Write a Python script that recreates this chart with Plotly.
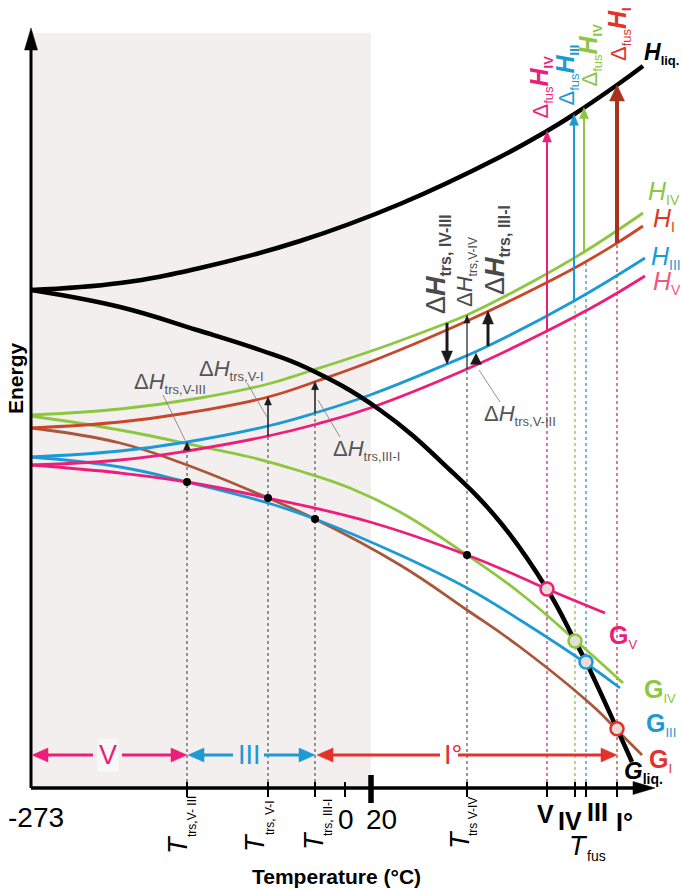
import numpy as np
import plotly.graph_objects as go

W, HGT = 682, 890
def py(v):  # layout helper: pixel row of the reference -> energy units
    return HGT - v

# ---------------- data (schematic temperature units / energy units) ----------------
T_liqH = [31, 120, 200, 300, 400, 500, 547, 573, 617, 643]
H_liq = [600, 607, 622, 649, 686, 733, 759, 775, 805, 824]
T_liqG = [31, 120, 197, 260, 307, 380, 450, 500, 547, 574, 587, 618, 632]
G_liq = [600, 583, 560, 540, 522, 480, 420, 368, 301, 251, 226, 159, 128]

T_HIV = [31, 120, 200, 268, 307, 380, 447, 467, 530, 584, 643]
H_IV = [475, 481, 492, 506, 518, 542, 567, 575, 607, 638, 677]
T_HI = [31, 120, 187, 268, 320, 380, 467, 530, 580, 617, 643]
H_I = [462, 468, 477, 493, 510, 532, 569, 599, 625, 647, 664]
T_HIII = [31, 120, 187, 268, 315, 370, 447, 488, 574, 645]
H_III = [433, 439, 448, 464, 477, 495, 526, 544, 589, 632]
T_HV = [31, 120, 187, 268, 317, 370, 467, 547, 600, 645]
H_V = [425, 430, 439, 454, 466, 482, 521, 559, 587, 614]

T_GIV = [31, 120, 203, 250, 300, 350, 400, 467, 520, 574, 623]
G_IV = [474, 460, 443, 433, 419, 402, 378, 335, 297, 251, 207]
T_GI = [31, 120, 187, 268, 315, 400, 467, 520, 595, 618, 642]
G_I = [462, 447, 425, 392, 371, 325, 280, 243, 182, 159, 135]
T_GIII = [31, 120, 187, 268, 315, 400, 467, 520, 587, 620]
G_III = [433, 423, 408, 387, 371, 335, 302, 270, 226, 202]
T_GV = [31, 120, 187, 268, 370, 467, 520, 547, 605]
G_V = [425, 417, 408, 392, 368, 335, 313, 301, 277]

T_ABS0 = 31          # -273 °C
T_ZERO, T_ROOM = 345, 371   # 0 °C and 20 °C
T_trs = {"V-III": 187, "V-I": 268, "III-I": 315, "V-IV": 467}
T_fus = {"V": 547, "IV": 575, "III": 586, "I": 617}
T_fus_arrow = {"V": 547, "III": 574, "IV": 584, "I": 617}
T_dH_big = {"IV-III": 447, "III-I": 488, "V-III": 476}

PINK, GREEN, BLUE = "#ec1e79", "#8dc63f", "#1b9ad6"
HI_RED, GI_BROWN, RED = "#c8472a", "#a9573a", "#e3312b"
FONT = "Liberation Sans, Arial, sans-serif"
GREY_TXT = "#555555"

def at(T, E, x):
    return float(np.interp(x, T, E))

fig = go.Figure()
shapes, ann = [], []

def seg(x0, y0, x1, y1, color, width, dash=None, layer="above"):
    shapes.append(dict(type="line", xref="x", yref="y", x0=x0, y0=y0, x1=x1, y1=y1,
                       line=dict(color=color, width=width, dash=dash), layer=layer))

def head(xt, yt, dx, dy, length, width, color):
    bx, by = xt - dx * length, yt - dy * length
    nx, ny = -dy, dx
    p1 = (bx + nx * width / 2, by + ny * width / 2)
    p2 = (bx - nx * width / 2, by - ny * width / 2)
    shapes.append(dict(type="path", xref="x", yref="y",
                       path=f"M{xt},{yt} L{p1[0]},{p1[1]} L{p2[0]},{p2[1]} Z",
                       fillcolor=color, line=dict(color=color, width=0.5), layer="above"))

def arrow(x0, y0, x1, y1, color, width, hl, hw, draw_line=True):
    L = np.hypot(x1 - x0, y1 - y0)
    dx, dy = (x1 - x0) / L, (y1 - y0) / L
    if draw_line:
        seg(x0, y0, x1 - dx * hl * 0.7, y1 - dy * hl * 0.7, color, width)
    head(x1, y1, dx, dy, hl, hw, color)

def txt(x, y, s, size, color="#000", angle=0, xa="center", ya="middle", bg=None):
    d = dict(x=x, y=y, xref="x", yref="y", text=s, showarrow=False, textangle=angle,
             xanchor=xa, yanchor=ya, font=dict(family=FONT, size=size, color=color))
    if bg:
        d["bgcolor"] = bg
    ann.append(d)

def sub(s, size, bold=False):
    inner = f"<b>{s}</b>" if bold else s
    return f'<sub><span style="font-size:{size}px">{inner}</span></sub>'

def sz(s, size):
    return f'<span style="font-size:{size}px">{s}</span>'

# ---------------- background / axes ----------------
y_axis = py(788)
shapes.append(dict(type="rect", xref="x", yref="y", x0=T_ABS0, x1=T_ROOM, y0=y_axis, y1=py(33),
                   fillcolor="#f3efef", line=dict(width=0), layer="below"))

# grey dotted transition lines
for key, crv in [("V-III", (T_HV, H_V)), ("V-I", (T_HV, H_V)),
                 ("III-I", (T_HIII, H_III)), ("V-IV", (T_HV, H_V))]:
    x = T_trs[key]
    seg(x, y_axis, x, at(*crv, x), "#333333", 1, "dot", "below")

# coloured dotted melting lines
seg(T_fus["V"], y_axis, T_fus["V"], at(T_HV, H_V, T_fus["V"]), PINK, 1.3, "dot", "below")
seg(T_fus["IV"], y_axis, T_fus["IV"], at(T_HIII, H_III, T_fus["IV"]), GREEN, 1.3, "dot", "below")
seg(T_fus["III"], y_axis, T_fus["III"], at(T_HI, H_I, T_fus["III"]), BLUE, 1.3, "dot", "below")
seg(T_fus["I"], y_axis, T_fus["I"], at(T_HI, H_I, T_fus["I"]), RED, 1.3, "dot", "below")

# ---------------- curves ----------------
def curve(T, E, color, width):
    fig.add_trace(go.Scatter(x=T, y=E, mode="lines", hoverinfo="skip", showlegend=False,
                             line=dict(color=color, width=width, shape="spline", smoothing=1.2)))

curve(T_GI, G_I, GI_BROWN, 2.8)
curve(T_GIII, G_III, BLUE, 2.8)
curve(T_GIV, G_IV, GREEN, 2.8)
curve(T_GV, G_V, PINK, 2.8)
curve(T_HV, H_V, PINK, 2.8)
curve(T_HIII, H_III, BLUE, 2.8)
curve(T_HI, H_I, HI_RED, 2.8)
curve(T_HIV, H_IV, GREEN, 2.8)
curve(T_liqG, G_liq, "#000000", 4.5)
curve(T_liqH, H_liq, "#000000", 4.5)

# transition points
dots_x = [T_trs["V-III"], T_trs["V-I"], T_trs["III-I"], T_trs["V-IV"]]
dots_y = [at(T_GV, G_V, dots_x[0]), at(T_GV, G_V, dots_x[1]),
          at(T_GIII, G_III, dots_x[2]), at(T_GV, G_V, dots_x[3])]
fig.add_trace(go.Scatter(x=dots_x, y=dots_y, mode="markers", hoverinfo="skip", showlegend=False,
                         marker=dict(color="#000", size=8)))
# melting points
mx = [T_fus["V"], T_fus["IV"], T_fus["III"], T_fus["I"]]
my = [at(T_liqG, G_liq, x) for x in mx]
fig.add_trace(go.Scatter(x=mx, y=my, mode="markers", hoverinfo="skip", showlegend=False,
                         marker=dict(color="#e6dcd8", size=13,
                                     line=dict(color=[PINK, GREEN, BLUE, RED], width=2.5))))

# ---------------- axes lines ----------------
seg(T_ABS0, y_axis, 640, y_axis, "#000", 3.5)
head(655, y_axis, 1, 0, 22, 13, "#000")
seg(T_ABS0, y_axis, T_ABS0, py(45), "#000", 3)
head(T_ABS0, py(28), 0, 1, 22, 13, "#000")
for x in [T_trs["V-III"], T_trs["V-I"], T_trs["III-I"], T_ZERO, T_trs["V-IV"]] + mx:
    seg(x, py(782), x, py(797), "#000", 2)
seg(T_ROOM, py(775), T_ROOM, py(803), "#000", 5.5)

# ---------------- enthalpy arrows ----------------
x = T_fus_arrow["V"];  arrow(x, at(T_HV, H_V, x), x, at(T_liqH, H_liq, x), PINK, 2, 11, 9)
x = T_fus_arrow["III"]; arrow(x, at(T_HIII, H_III, x), x, at(T_liqH, H_liq, x), BLUE, 2, 11, 9)
x = T_fus_arrow["IV"]; arrow(x, at(T_HIV, H_IV, x), x, at(T_liqH, H_liq, x), GREEN, 2, 11, 9)
x = T_fus_arrow["I"];  arrow(x, at(T_HI, H_I, x), x, at(T_liqH, H_liq, x), "#a8321f", 4, 16, 15)

K = "#1a1a1a"
x = T_trs["V-III"]; arrow(x, at(T_HV, H_V, x), x, at(T_HIII, H_III, x), K, 1.5, 8, 7)
x = T_trs["V-I"];   arrow(x, at(T_HV, H_V, x), x, at(T_HI, H_I, x), K, 1.5, 8, 7)
x = T_trs["III-I"]; arrow(x, at(T_HIII, H_III, x), x, at(T_HI, H_I, x), K, 1.5, 8, 7)
x = T_trs["V-IV"];  arrow(x, at(T_HV, H_V, x), x, at(T_HIV, H_IV, x), K, 1.2, 8, 6)
x = T_dH_big["IV-III"]; arrow(x, at(T_HIV, H_IV, x), x, at(T_HIII, H_III, x), K, 3, 13, 11)
x = T_dH_big["III-I"];  arrow(x, at(T_HIII, H_III, x), x, at(T_HI, H_I, x), K, 3, 13, 11)
x = T_dH_big["V-III"];  arrow(x, at(T_HV, H_V, x), x, at(T_HIII, H_III, x) - 2, K, 3, 11, 11, draw_line=False)

# leader lines
LG = "#777777"
seg(163, py(395), T_trs["V-III"] - 2, py(440), LG, 0.8)
seg(247, py(383), T_trs["V-I"] - 1, py(417), LG, 0.8)
seg(318, py(400), 340, py(437), LG, 0.8)
seg(T_dH_big["V-III"] + 3, py(370), 500, py(402), LG, 0.8)

# ---------------- phase stability bar ----------------
yb = py(755)
arrow(93, yb, T_ABS0 + 1, yb, PINK, 3, 16, 14)
arrow(122, yb, T_trs["V-III"], yb, PINK, 3, 16, 14)
arrow(233, yb, T_trs["V-III"] + 1, yb, BLUE, 3, 16, 14)
arrow(264, yb, T_trs["III-I"], yb, BLUE, 3, 16, 14)
arrow(440, yb, T_trs["III-I"] + 2, yb, RED, 3, 16, 14)
arrow(458, yb, T_fus["I"], yb, RED, 3, 16, 14)
txt(108, yb, "V", 27, PINK, bg="rgba(250,248,248,0.9)")
txt(249, yb, "III", 27, BLUE)
txt(453, yb, "I°", 27, RED)

# ---------------- texts ----------------
txt(15, py(378), "<b>Energy</b>", 21, angle=-90)
txt(336, py(876), "<b>Temperature (°C)</b>", 21)
txt(36, py(817), "-273", 28)
txt(346, py(819), "0", 28)
txt(381, py(819), "20", 28)

for (tx, ty), tsub, sx, sy in [((178, 845), "trs,V- III", 192, 817),
                               ((255, 843), "trs, V-I", 270, 818),
                               ((314, 841), "trs, III-I", 328, 818),
                               ((460, 840), "trs V-IV", 473, 817)]:
    txt(tx, py(ty), "<i>T</i>", 27, angle=-90)
    txt(sx, py(sy), tsub, 12, angle=-90)

txt(545, py(814), "<b>V</b>", 25)
txt(570, py(821), "<b>IV</b>", 25)
txt(597, py(812), "<b>III</b>", 25)
txt(624, py(822), "<b>I°</b>", 25)
txt(578, py(846), "<i>T</i>", 27)
txt(596, py(856), "fus", 14)

# G labels
txt(607, py(636), "<b>G</b>" + sub("V", 13), 25, PINK, xa="left")
txt(642, py(690), "<b>G</b>" + sub("IV", 13), 25, GREEN, xa="left")
txt(644, py(724), "<b>G</b>" + sub("III", 13), 25, BLUE, xa="left")
txt(647, py(760), "<b>G</b>" + sub("I", 13), 25, RED, xa="left")
txt(622, py(772), "<b><i>G</i></b>" + sub("liq.", 14, True), 24, "#000", xa="left")

# H labels
txt(646, py(192), "<i>H</i>" + sub("IV", 14), 25, GREEN, xa="left")
txt(651, py(219), "<i>H</i>" + sub("I", 14), 25, "#d9382b", xa="left")
txt(649, py(257), "<i>H</i>" + sub("III", 14), 25, BLUE, xa="left")
txt(651, py(282), "<i>H</i>" + sub("V", 14), 25, "#f0587a", xa="left")
txt(642, py(53), "<b><i>H</i></b>" + sub("liq.", 13, True), 23, "#000", xa="left")

# fusion enthalpy labels (vertical, text starts at the bottom)
def fus_label(x, bottom, roman, color):
    s = sz("Δ", 22) + sub("fus", 13) + "<b><i>H</i></b>" + sub(roman, 13, True)
    txt(x, py(bottom), s, 25, color, angle=-90, ya="bottom")

fus_label(540, 121, "IV", PINK)
fus_label(566, 108, "III", BLUE)
fus_label(589, 89, "IV", GREEN)
fus_label(618, 63, "I", RED)

# transition enthalpy labels
txt(437, py(316), "Δ<b><i>H</i></b>" + sub("trs, IV-III", 16, True), 27, "#4a4a4a", angle=-90, ya="bottom")
txt(466, py(309), "Δ<i>H</i>" + sub("trs,V-IV", 12), 22, "#4a4a4a", angle=-90, ya="bottom")
txt(496, py(297), "Δ<b><i>H</i></b>" + sub("trs, III-I", 16, True), 27, "#4a4a4a", angle=-90, ya="bottom")
txt(132, py(383), "Δ<i>H</i>" + sub("trs,V-III", 13), 22, GREY_TXT, xa="left")
txt(197, py(370), "Δ<i>H</i>" + sub("trs,V-I", 13), 22, GREY_TXT, xa="left")
txt(331, py(450), "Δ<i>H</i>" + sub("trs,III-I", 13), 22, GREY_TXT, xa="left")
txt(482, py(415), "Δ<i>H</i>" + sub("trs,V-III", 13), 22, GREY_TXT, xa="left")

fig.update_layout(
    width=W, height=HGT, autosize=False,
    margin=dict(l=0, r=0, t=0, b=0, pad=0),
    paper_bgcolor="white", plot_bgcolor="white",
    xaxis=dict(range=[0, W], visible=False, fixedrange=True),
    yaxis=dict(range=[0, HGT], visible=False, fixedrange=True),
    shapes=shapes, annotations=ann, showlegend=False,
    font=dict(family=FONT),
)
fig.write_html("out.html", config={"displayModeBar": False},
               post_script="document.body.style.margin='0';document.body.style.overflow='hidden';")
